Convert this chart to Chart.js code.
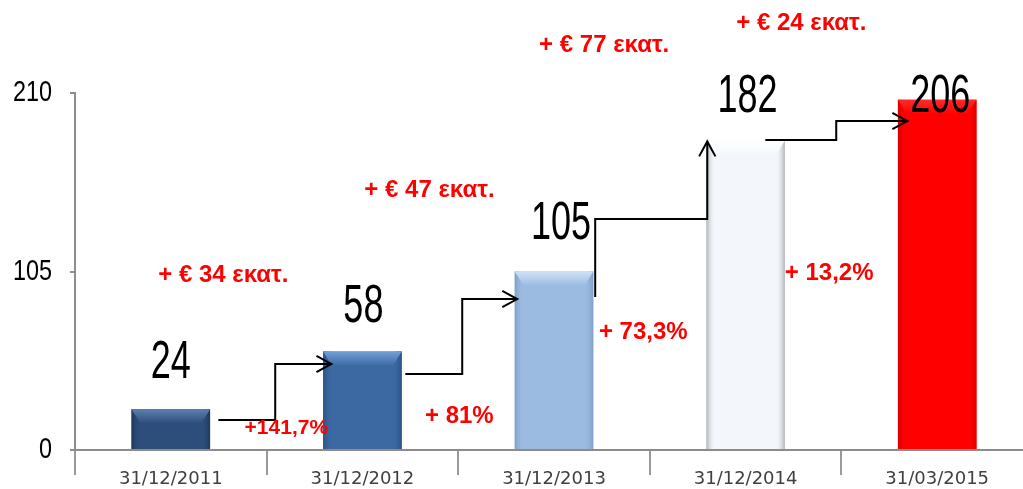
<!DOCTYPE html>
<html>
<head>
<meta charset="utf-8">
<script src="https://cdn.jsdelivr.net/npm/chart.js@4"></script>
<style>
  html, body { margin: 0; padding: 0; background: #fff; overflow: hidden; }
  #wrap { width: 1033px; height: 489px; }
</style>
</head>
<body>
<div id="wrap"><canvas id="myChart" width="1033" height="489"></canvas></div>
<script>
// data
const dates = ["31/12/2011", "31/12/2012", "31/12/2013", "31/12/2014", "31/03/2015"];
const amounts = [24, 58, 105, 182, 206];
const growthEuro = ["+ € 34 εκατ.", "+ € 47 εκατ.", "+ € 77 εκατ.", "+ € 24 εκατ."];
const growthPct = ["+141,7%", "+ 81%", "+ 73,3%", "+ 13,2%"];
const yTicks = [0, 105, 210];

// bar look: base, light top, dark edge
const barStyles = [
    ["#2d4e7b", "#5a7fb0", "#1f3758"],
    ["#3c69a2", "#74a0d8", "#2c5082"],
    ["#9cbbe0", "#cfe2f6", "#7f9fc6"],
    ["#f3f7fc", "#ffffff", "#b0b4b8"],
    ["#ff0000", "#ff2a2a", "#d80000"],
];

const SANS = "'Liberation Sans', Arial, sans-serif";

// draw text squeezed sideways, like the narrow font of the original
function narrowText(ctx, txt, x, y, size, sx, align) {
    ctx.save();
    ctx.font = size + "px " + SANS;
    ctx.textAlign = align;
    ctx.translate(x, y);
    ctx.scale(sx, 1);
    ctx.fillText(txt, 0, 0);
    ctx.restore();
}

// bevel look on every bar
const bevelPlugin = {
    id: "bevel",
    afterDatasetDraw(chart, args) {
        const ctx = chart.ctx;
        const meta = args.meta;
        meta.data.forEach((bar, i) => {
            const st = barStyles[i];
            const w = bar.width;
            const l = bar.x - w / 2, r = bar.x + w / 2;
            const t = bar.y, b = bar.base;
            const bv = Math.min(9, (b - t) / 2);
            ctx.save();
            let g = ctx.createLinearGradient(l, 0, l + bv, 0);
            g.addColorStop(0, st[2]);
            g.addColorStop(1, st[0] + "00");
            ctx.fillStyle = g;
            ctx.fillRect(l, t, bv, b - t);
            g = ctx.createLinearGradient(r - bv, 0, r, 0);
            g.addColorStop(0, st[0] + "00");
            g.addColorStop(1, st[2]);
            ctx.fillStyle = g;
            ctx.fillRect(r - bv, t, bv, b - t);
            ctx.beginPath();
            ctx.moveTo(l, t);
            ctx.lineTo(r, t);
            ctx.lineTo(r - bv, t + bv * 1.6);
            ctx.lineTo(l + bv, t + bv * 1.6);
            ctx.closePath();
            g = ctx.createLinearGradient(0, t, 0, t + bv * 1.6);
            g.addColorStop(0, st[1]);
            g.addColorStop(1, st[0]);
            ctx.fillStyle = g;
            ctx.fill();
            ctx.restore();
        });
    }
};

// y tick labels, value labels, arrows and red growth notes
const notesPlugin = {
    id: "notes",
    afterDatasetsDraw(chart, args, opts) {
        const ctx = chart.ctx;
        const xs = chart.scales.x, ys = chart.scales.y;
        const px = v => xs.getPixelForValue(0) + v * (xs.getPixelForValue(1) - xs.getPixelForValue(0));
        const py = v => ys.getPixelForValue(v);
        const meta = chart.getDatasetMeta(0);

        ctx.save();
        ctx.fillStyle = "#000";
        ctx.textBaseline = "middle";
        yTicks.forEach(v => narrowText(ctx, String(v), ys.left + ys.width - 23, py(v), 30, 0.78, "right"));

        ctx.textBaseline = "alphabetic";
        meta.data.forEach((bar, i) => {
            narrowText(ctx, String(amounts[i]), bar.x + opts.labelShift[i], bar.y - opts.labelGap[i], 53, 0.68, "center");
        });
        ctx.restore();

        // step arrows
        ctx.save();
        ctx.strokeStyle = "#000";
        ctx.lineWidth = 2;
        opts.arrows.forEach(path => {
            const pts = path.map(p => [px(p[0]), py(p[1])]);
            ctx.beginPath();
            pts.forEach((p, k) => k ? ctx.lineTo(p[0], p[1]) : ctx.moveTo(p[0], p[1]));
            ctx.stroke();
            const a = pts[pts.length - 2], e = pts[pts.length - 1];
            const ang = Math.atan2(e[1] - a[1], e[0] - a[0]);
            const len = 17, spread = 0.5;
            ctx.beginPath();
            ctx.moveTo(e[0] - len * Math.cos(ang - spread), e[1] - len * Math.sin(ang - spread));
            ctx.lineTo(e[0], e[1]);
            ctx.lineTo(e[0] - len * Math.cos(ang + spread), e[1] - len * Math.sin(ang + spread));
            ctx.stroke();
        });
        ctx.restore();

        // red notes
        ctx.save();
        ctx.fillStyle = "#ff0000";
        ctx.textAlign = "center";
        ctx.textBaseline = "middle";
        growthPct.forEach((t, i) => {
            const p = opts.pctAt[i];
            ctx.font = "bold " + opts.pctSize[i] + "px " + SANS;
            ctx.fillText(t, px(p[0]), py(p[1]));
        });
        ctx.font = "bold 24px " + SANS;
        growthEuro.forEach((t, i) => {
            const p = opts.euroAt[i];
            ctx.fillText(t, px(p[0]), py(p[1]));
        });
        ctx.restore();
    }
};

const ctx = document.getElementById("myChart").getContext("2d");
const chart = new Chart(ctx, {
    type: "bar",
    data: {
        labels: dates,
        datasets: [{
            data: amounts,
            backgroundColor: barStyles.map(s => s[0]),
            borderWidth: 0,
            barPercentage: 0.41,
            categoryPercentage: 1,
        }],
    },
    options: {
        responsive: false,
        animation: false,
        layout: { padding: { top: 93, right: 0, left: 0, bottom: 0 } },
        plugins: {
            legend: { display: false },
            tooltip: { enabled: false },
            notes: {
                labelGap: [31, 29, 33, 29, -12],
                labelShift: [0, 1, 7, 2, 3],
                arrows: [
                    [[0.248, 17.6], [0.545, 17.6], [0.545, 50.6], [0.838, 50.6]],
                    [[1.224, 44.7], [1.521, 44.7], [1.521, 88.8], [1.808, 88.8]],
                    [[2.215, 90], [2.215, 135.9], [2.8, 135.9], [2.8, 181.5]],
                    [[3.103, 182.4], [3.473, 182.4], [3.473, 193.5], [3.844, 193.5]],
                ],
                euroAt: [[0.274, 103], [1.35, 153], [2.262, 238], [3.291, 251]],
                pctAt: [[0.603, 13], [1.506, 20], [2.466, 69.4], [3.436, 104]],
                pctSize: [21, 24, 24, 24],
            },
        },
        scales: {
            x: {
                grid: {
                    offset: true,
                    drawOnChartArea: false,
                    drawTicks: true,
                    tickLength: 25,
                    color: "#999999",
                    lineWidth: 2,
                },
                border: { display: true, color: "#8c8c8c", width: 2 },
                ticks: {
                    color: "#404040",
                    font: { family: "'DejaVu Sans', sans-serif", size: 18 },
                    padding: -6,
                    maxRotation: 0,
                    autoSkip: false,
                },
                afterFit(scale) { scale.height = 39; },
            },
            y: {
                min: 0,
                max: 210,
                afterBuildTicks(scale) { scale.ticks = yTicks.map(v => ({ value: v })); },
                grid: {
                    drawOnChartArea: false,
                    drawTicks: true,
                    tickLength: 5,
                    color: "#8c8c8c",
                    lineWidth: 2,
                },
                border: { display: true, color: "#8c8c8c", width: 2 },
                ticks: { display: false },
                afterFit(scale) { scale.width = 75; },
            },
        },
    },
    plugins: [bevelPlugin, notesPlugin],
});
</script>
</body>
</html>
